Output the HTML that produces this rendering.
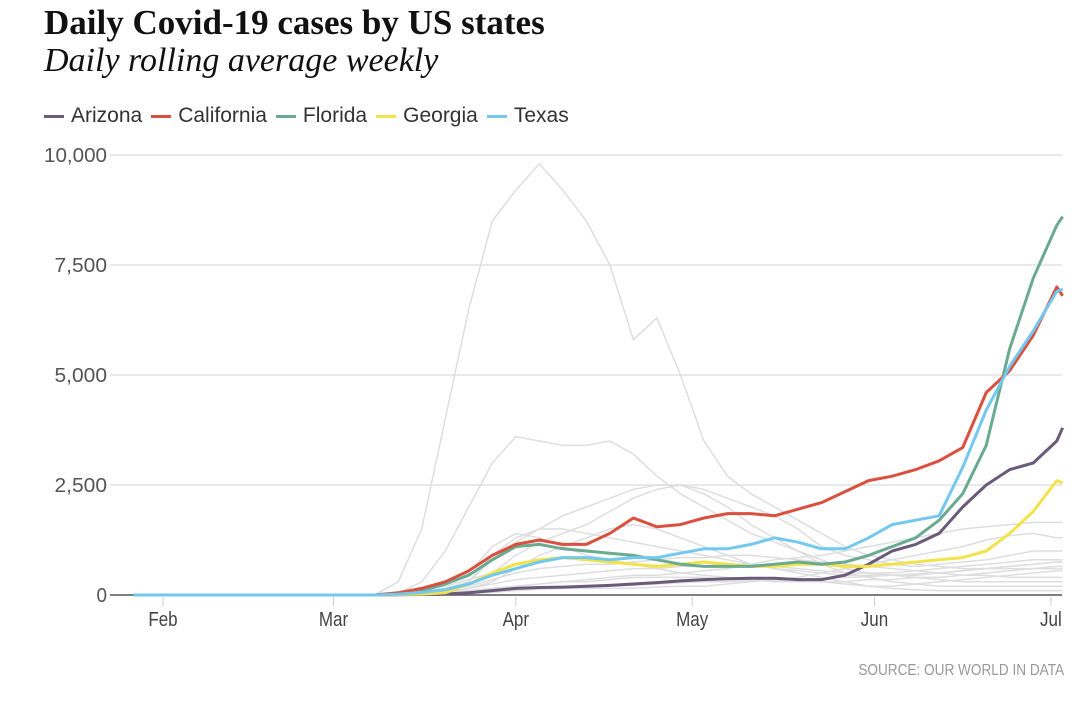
<!DOCTYPE html>
<html><head><meta charset="utf-8"><style>
body{margin:0;background:#fff;width:1080px;height:706px;overflow:hidden;position:relative;font-family:"Liberation Sans Narrow","Liberation Sans",sans-serif}
.title{position:absolute;left:44px;top:3px;font:bold 35px "Liberation Serif",serif;color:#111;margin:0;white-space:nowrap}
.sub{position:absolute;left:44px;top:42px;font:italic 34px "Liberation Serif",serif;color:#111;margin:0;white-space:nowrap}
.legend{position:absolute;left:44px;top:104px;display:flex;gap:9px;font-size:21px;color:#333}
.li{display:flex;align-items:center;gap:7px}
.sw{width:20px;height:3px;display:inline-block}
.src{position:absolute;right:16px;top:662px;font-size:16px;color:#999;transform:scaleX(0.85);transform-origin:right}
svg{position:absolute;left:0;top:0}
</style></head><body>
<h1 class="title">Daily Covid-19 cases by US states</h1>
<h2 class="sub">Daily rolling average weekly</h2>
<div class="legend">
<span class="li"><i class="sw" style="background:#6b5b7b"></i>Arizona</span>
<span class="li"><i class="sw" style="background:#d9503f"></i>California</span>
<span class="li"><i class="sw" style="background:#6aaa90"></i>Florida</span>
<span class="li"><i class="sw" style="background:#f2e34a"></i>Georgia</span>
<span class="li"><i class="sw" style="background:#72c8ee"></i>Texas</span>
</div>
<svg id="chart" width="1080" height="706"></svg>
<div class="src">SOURCE: OUR WORLD IN DATA</div>
<script>
const days=[-5,36,40,44,48,52,56,60,64,68,72,76,80,84,88,92,96,100,104,108,112,116,120,124,128,132,136,140,144,148,152,153];
const yTicks=[0,2500,5000,7500,10000];
const yTickLabels=["0","2,500","5,000","7,500","10,000"];
const monthDays=[0,29,60,90,121,151];
const monthLabels=["Feb","Mar","Apr","May","Jun","Jul"];
const arizona=[0,0,5,10,20,50,100,150,170,180,200,220,250,280,320,350,370,380,380,350,350,450,700,1000,1150,1400,2000,2500,2850,3000,3500,3800];
const california=[0,0,50,150,300,550,900,1150,1250,1150,1150,1400,1750,1550,1600,1750,1850,1850,1800,1950,2100,2350,2600,2700,2850,3050,3350,4600,5100,5900,7000,6800];
const florida=[0,0,30,100,250,450,800,1100,1150,1050,1000,950,900,800,700,650,650,650,700,750,700,750,900,1100,1300,1700,2300,3400,5600,7200,8400,8600];
const georgia=[0,0,10,20,50,250,500,700,800,850,800,750,700,650,700,750,700,650,650,700,700,650,650,700,750,800,850,1000,1400,1900,2600,2550];
const texas=[0,0,20,60,120,250,450,600,750,850,850,800,850,850,950,1050,1050,1150,1300,1200,1050,1050,1300,1600,1700,1800,2900,4200,5200,6000,6900,6950];
const grayNY=[0,0,300,1500,4000,6500,8500,9200,9800,9200,8500,7500,5800,6300,5000,3500,2700,2300,2000,1700,1400,1100,900,800,700,650,600,600,600,600,600,600];
const grayNJ=[0,0,50,300,1000,2000,3000,3600,3500,3400,3400,3500,3200,2700,2300,2000,1700,1400,1200,1000,800,600,500,450,400,350,300,300,300,300,300,300];
const grayMA=[0,0,10,50,150,300,800,1200,1500,1800,2000,2200,2400,2500,2500,2300,2000,1600,1300,1000,700,500,400,300,250,200,200,200,200,200,200,200];
const grayIL=[0,0,20,80,200,350,500,900,1200,1400,1600,1900,2200,2400,2500,2400,2200,2000,1800,1500,1100,900,800,700,650,700,750,800,900,1000,1000,1000];
const grayPA=[0,0,20,80,150,300,900,1300,1500,1500,1400,1300,1200,1100,1000,900,800,700,600,550,500,450,450,450,450,500,550,600,650,700,750,750];
const grayMI=[0,0,20,100,300,500,1100,1400,1300,1100,900,800,700,600,500,450,400,350,300,300,300,250,200,200,250,300,350,400,450,500,550,550];
const grayNC=[0,0,5,20,50,100,150,200,250,300,350,400,450,450,500,550,600,700,800,850,900,1000,1100,1200,1300,1400,1500,1550,1600,1650,1650,1650];
const graySC=[0,0,2,10,20,50,80,120,150,150,150,150,150,180,200,200,250,300,350,400,500,600,700,800,900,1000,1100,1250,1350,1400,1300,1300];
const grayL1=[0,0,5,20,50,150,250,350,400,450,500,550,600,600,650,650,700,700,650,600,550,500,500,500,550,600,650,700,750,800,800,800];
const grayL2=[0,0,2,10,30,80,150,200,250,300,300,350,400,400,400,400,350,350,300,300,300,300,350,350,400,400,450,500,550,600,650,650];
const grayL3=[0,0,5,30,100,200,350,500,600,650,700,700,750,800,850,850,900,900,850,800,750,700,650,600,550,500,450,450,400,400,400,400];
const grayL4=[0,0,0,10,50,150,300,600,900,1100,1300,1500,1600,1500,1300,1100,900,700,600,500,400,300,200,150,120,100,100,100,100,100,100,100];
const grayL5=[0,0,1,5,10,30,60,100,130,150,180,200,220,250,280,300,300,320,330,350,380,400,420,450,480,500,550,600,650,700,750,750];

const NS="http://www.w3.org/2000/svg";
const svg=document.getElementById('chart');
const x=d=>163+d*5.88;
const y=v=>595-v/10000*440;
function mk(tag,attrs){const e=document.createElementNS(NS,tag);for(const k in attrs)e.setAttribute(k,attrs[k]);svg.appendChild(e);return e;}
yTicks.forEach((t,i)=>{
  if(t>0){const g=mk('line',{x1:110,x2:1062,y1:y(t),y2:y(t),stroke:'#e2e2e2','stroke-width':1.5});
  
  }
  const tx=mk('text',{x:107,y:y(t)+7,'text-anchor':'end','font-size':20,fill:'#555','font-family':'"Liberation Sans Narrow","Liberation Sans",sans-serif',textLength:yTickLabels[i].length*10.5,lengthAdjust:'spacingAndGlyphs'});
  tx.textContent=yTickLabels[i];
  
  
});
monthDays.forEach((d,i)=>{
  const tk=mk('line',{x1:x(d),x2:x(d),y1:597,y2:606,stroke:'#ccc','stroke-width':1});
  
  
  const tx=mk('text',{x:x(d),y:626,'text-anchor':'middle','font-size':20,fill:'#444','font-family':'"Liberation Sans Narrow","Liberation Sans",sans-serif',transform:'translate('+x(d)+',0) scale(0.85,1) translate('+(-x(d))+',0)'});
  tx.textContent=monthLabels[i];
  
  
});
function line(arr,color,w,name){
  const p=mk('polyline',{points:arr.map((v,i)=>x(days[i])+','+y(v)).join(' '),fill:'none',stroke:color,'stroke-width':w,'stroke-linejoin':'round'});
  
  
}
[grayNY,grayNJ,grayMA,grayIL,grayPA,grayMI,grayNC,graySC,grayL1,grayL2,grayL3,grayL4,grayL5].forEach(a=>line(a,'#dedede',1.5,'other-state-line'));
const base=mk('line',{x1:110,x2:1062,y1:595,y2:595,stroke:'#555','stroke-width':1.5});


line(arizona,'#6b5b7b',3,'arizona-line');
line(georgia,'#f2e34a',3,'georgia-line');
line(florida,'#6aaa90',3,'florida-line');
line(california,'#d9503f',3,'california-line');
line(texas,'#72c8ee',3,'texas-line');
</script>
</body></html>
